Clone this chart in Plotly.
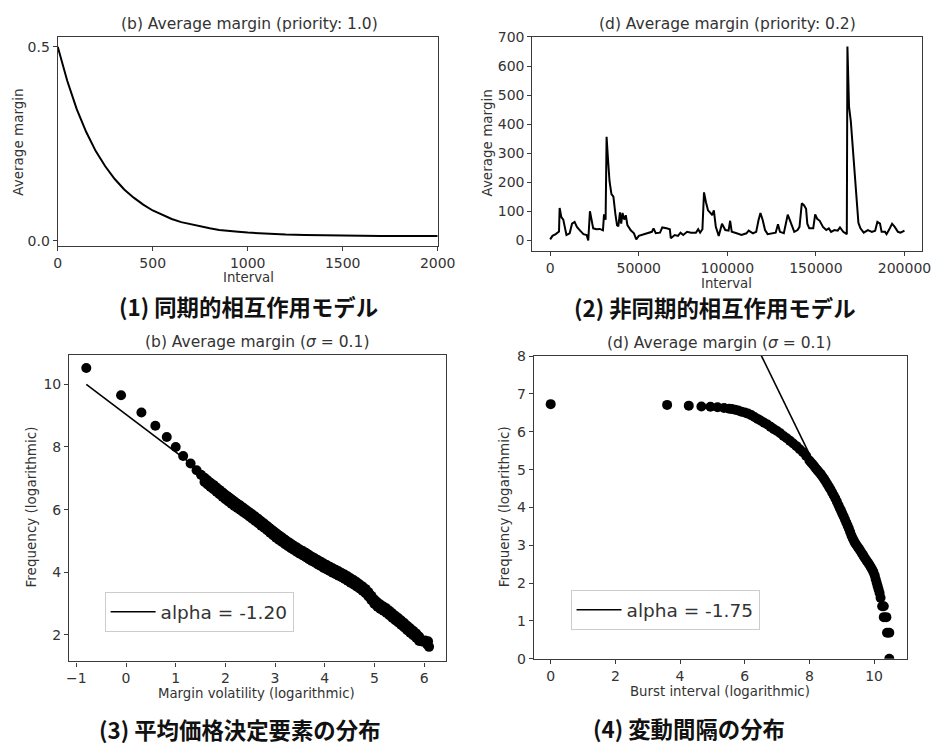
import plotly.graph_objects as go

W, H = 948, 748

# ---------------- data ----------------
# (1) synchronous model: average margin vs interval
sync_interval = [0, 50, 100, 150, 200, 250, 300, 350, 400, 450, 500, 550, 600, 650, 700,
                 750, 800, 850, 900, 950, 1000, 1100, 1200, 1300, 1400, 1500, 1600, 1700,
                 1800, 1900, 2000]
sync_margin = [0.500, 0.412, 0.339, 0.280, 0.231, 0.192, 0.159, 0.132, 0.111, 0.093, 0.078,
               0.066, 0.056, 0.048, 0.042, 0.036, 0.032, 0.028, 0.025, 0.023, 0.021, 0.018,
               0.016, 0.015, 0.014, 0.013, 0.0126, 0.0124, 0.0123, 0.0122, 0.0121]

# (2) asynchronous model: average margin vs interval
async_interval = [0, 1300, 3150, 4400, 5000, 5350, 6300, 7400, 8300, 9200, 11000, 12350, 13800,
                  15100, 16900, 18800, 20600, 21500, 22450, 23400, 24300, 26150, 28000, 29800,
                  30400, 31300, 31850, 32600, 33500, 34600, 35700, 36800, 37750, 38500, 39400,
                  40100, 40850, 41800, 42700, 43600, 45500, 47300, 48600, 50050, 53750, 57400,
                  58350, 59600, 62000, 63300, 65700, 67550, 68100, 70300, 72150, 73600, 75100,
                  77300, 79500, 82250, 83550, 84650, 85950, 86850, 87950, 89100, 90500, 91450,
                  92400, 93500, 95150, 97000, 98850, 100700, 101600, 102500, 105250, 108000,
                  110800, 112050, 114500, 116300, 117600, 118700, 120000, 121300, 122750,
                  125500, 127300, 128600, 129700, 131900, 133250, 134100, 135200, 136550,
                  137800, 139650, 140750, 142050, 143350, 144450, 145150, 146250, 148500,
                  149600, 150700, 152150, 154000, 155850, 157300, 158600, 160450, 162300,
                  163600, 165450, 167450, 167800, 168700, 169700, 170600, 171500, 172300,
                  173100, 174000, 175150, 177000, 179350, 181600, 183450, 184700, 186200,
                  187100, 189000, 189900, 191200, 193000, 194500, 196300, 197800, 200000]
async_margin = [3, 15, 21, 26, 30, 111, 80, 71, 41, 18, 24, 57, 63,
                46, 33, 21, 18, -1, 100, 69, 41, 38, 39, 34,
                89, 71, 356, 283, 204, 159, 150, 91, 52, 48, 96,
                57, 94, 71, 86, 52, 34, 24, 3, 15, 21, 29,
                41, 24, 26, 44, 41, 38, 7, 18, 15, 26, 18,
                29, 26, 26, 38, 26, 38, 165, 131, 103, 94, 86,
                103, 46, 15, 57, 35, 33, 67, 29, 24, 18,
                24, 33, 24, 29, 69, 94, 69, 35, 21,
                24, 26, 55, 29, 24, 57, 88, 71, 48,
                29, 35, 46, 127, 120, 108, 57, 41, 41,
                89, 74, 67, 46, 35, 41, 29, 35, 33,
                44, 29, 21, 667, 460, 410, 330, 260, 200,
                110, 60, 41, 26, 35, 29, 33, 63, 57,
                29, 29, 21, 35, 57, 46, 29, 26, 33]
async_ticks = [0, 50000, 100000, 150000, 200000]
async_ticktext = ["0", "50000", "100000", "150000", "200000"]

# (3) distribution of margin volatility (log-log)
# isolated points at the left
vol_sparse_x = [-0.80, -0.10, 0.31, 0.59, 0.82, 1.00, 1.15, 1.30, 1.42, 1.51]
vol_sparse_y = [10.52, 9.65, 9.10, 8.68, 8.32, 8.00, 7.71, 7.47, 7.26, 7.11]
# dense band: x positions with the upper and lower edge of the band of points
vol_band_x = [1.58, 1.64, 1.70, 1.76, 1.82, 1.88, 1.94, 2.00, 2.06, 2.12, 2.18, 2.24, 2.30,
              2.36, 2.42, 2.48, 2.54, 2.60, 2.66, 2.72, 2.78, 2.84, 2.90, 2.96, 3.02, 3.08,
              3.14, 3.20, 3.26, 3.32, 3.38, 3.44, 3.50, 3.56, 3.62, 3.68, 3.74, 3.80, 3.86,
              3.92, 3.98, 4.04, 4.10, 4.16, 4.22, 4.28, 4.34, 4.40, 4.46, 4.52, 4.58, 4.64,
              4.70, 4.76, 4.82, 4.88, 4.94, 5.00, 5.06, 5.12, 5.18, 5.24, 5.30, 5.36, 5.42,
              5.48, 5.54, 5.60, 5.66, 5.72, 5.78, 5.84, 5.90]
vol_band_upper = [7.02, 6.94, 6.86, 6.79, 6.71, 6.63, 6.55, 6.47, 6.40, 6.33,
                  6.26, 6.19, 6.13, 6.06, 5.99, 5.92, 5.85, 5.78, 5.71, 5.63,
                  5.56, 5.48, 5.40, 5.32, 5.24, 5.17, 5.11, 5.04, 4.97, 4.91,
                  4.85, 4.79, 4.73, 4.68, 4.62, 4.56, 4.50, 4.45, 4.39, 4.34,
                  4.28, 4.23, 4.18, 4.13, 4.08, 4.03, 3.98, 3.93, 3.87, 3.81,
                  3.75, 3.69, 3.62, 3.55, 3.47, 3.37, 3.25, 3.13, 3.04, 2.97,
                  2.91, 2.85, 2.77, 2.69, 2.61, 2.54, 2.46, 2.38, 2.29, 2.21,
                  2.13, 2.05, 1.95]
vol_band_lower = [6.88, 6.80, 6.72, 6.65, 6.57, 6.49, 6.41, 6.33, 6.26, 6.19,
                  6.12, 6.05, 5.99, 5.92, 5.85, 5.78, 5.71, 5.64, 5.57, 5.49,
                  5.42, 5.34, 5.26, 5.18, 5.10, 5.03, 4.97, 4.90, 4.83, 4.77,
                  4.71, 4.65, 4.59, 4.54, 4.48, 4.42, 4.36, 4.31, 4.25, 4.20,
                  4.14, 4.09, 4.04, 3.99, 3.94, 3.89, 3.84, 3.79, 3.73, 3.67,
                  3.61, 3.55, 3.48, 3.41, 3.33, 3.23, 3.11, 2.99, 2.90, 2.83,
                  2.77, 2.71, 2.63, 2.55, 2.47, 2.40, 2.32, 2.24, 2.15, 2.07,
                  1.99, 1.91, 1.81]
vol_tail_x = [5.96, 6.02, 6.06, 6.08, 6.10]
vol_tail_y = [1.79, 1.82, 1.70, 1.80, 1.62]
vol_fit_x = [-0.80, 6.10]
vol_fit_y = [10.00, 1.72]
vol_alpha = "alpha = -1.20"

# (4) distribution of burst intervals (log-log)
burst_x = [0.00, 3.60, 4.27, 4.66, 4.94, 5.16, 5.36, 5.52,
           5.60, 5.70, 5.80, 5.90, 6.00, 6.10, 6.20, 6.30, 6.40, 6.50, 6.60, 6.70, 6.80,
           6.90, 7.00, 7.10, 7.20, 7.30, 7.40, 7.50, 7.60, 7.70, 7.80, 7.90,
           8.00, 8.05, 8.10, 8.15, 8.20, 8.25, 8.30, 8.35, 8.40, 8.45, 8.50, 8.55, 8.60,
           8.65, 8.70, 8.75, 8.80, 8.85, 8.90, 8.94, 8.98, 9.02, 9.06, 9.10, 9.14, 9.18,
           9.22, 9.26, 9.30, 9.34, 9.38, 9.42, 9.46, 9.50, 9.54, 9.58, 9.62, 9.66, 9.70,
           9.74, 9.78, 9.82, 9.86, 9.90, 9.94, 9.98, 10.02, 10.05, 10.08, 10.11, 10.14,
           10.17, 10.20, 10.25, 10.30, 10.30, 10.38, 10.40, 10.47, 10.47]
burst_y = [6.73, 6.71, 6.69, 6.67, 6.66, 6.65, 6.63, 6.61,
           6.60, 6.58, 6.56, 6.53, 6.51, 6.48, 6.44, 6.39, 6.34, 6.29, 6.24, 6.19, 6.13,
           6.07, 6.02, 5.96, 5.89, 5.83, 5.76, 5.69, 5.62, 5.54, 5.46, 5.36,
           5.24, 5.19, 5.14, 5.09, 5.03, 4.98, 4.93, 4.88, 4.82, 4.76, 4.69, 4.62, 4.55,
           4.48, 4.40, 4.32, 4.24, 4.15, 4.06, 3.98, 3.91, 3.83, 3.76, 3.68, 3.60, 3.52,
           3.44, 3.35, 3.26, 3.18, 3.11, 3.05, 3.00, 2.95, 2.90, 2.85, 2.79, 2.74, 2.68,
           2.63, 2.58, 2.53, 2.48, 2.42, 2.36, 2.29, 2.20, 2.10, 2.01, 1.92, 1.83,
           1.74, 1.61, 1.39, 1.39, 1.10, 1.10, 0.69, 0.69, 0.00]
burst_fit_x = [6.30, 8.20]
burst_fit_y = [8.385, 5.06]
burst_alpha = "alpha = -1.75"

titles = ["(b) Average margin (priority: 1.0)", "(d) Average margin (priority: 0.2)",
          "(b) Average margin (<i>σ</i> = 0.1)", "(d) Average margin (<i>σ</i> = 0.1)"]
captions = ["(1) 同期的相互作用モデル", "(2) 非同期的相互作用モデル",
            "(3) 平均価格決定要素の分布", "(4) 変動間隔の分布"]
xlabels = ["Interval", "Interval", "Margin volatility (logarithmic)", "Burst interval (logarithmic)"]
ylabels = ["Average margin", "Average margin", "Frequency (logarithmic)", "Frequency (logarithmic)"]

# ---------------- figure ----------------
def px(x):
    return x / W

def py(y):
    return 1 - y / H

FONT = "DejaVu Sans"
TXT = "#333333"
AX = "#3a3a3a"

vol_all_x = vol_sparse_x + vol_band_x + vol_band_x + vol_tail_x
vol_all_y = vol_sparse_y + vol_band_upper + vol_band_lower + vol_tail_y

fig = go.Figure()

fig.add_trace(go.Scatter(x=sync_interval, y=sync_margin, mode="lines", line=dict(color="black", width=2),
                         xaxis="x", yaxis="y", showlegend=False))
fig.add_trace(go.Scatter(x=async_interval, y=async_margin, mode="lines", line=dict(color="black", width=2),
                         xaxis="x2", yaxis="y2", showlegend=False))
fig.add_trace(go.Scatter(x=vol_fit_x, y=vol_fit_y, mode="lines", line=dict(color="black", width=1.6),
                         xaxis="x3", yaxis="y3", name=vol_alpha, legend="legend"))
fig.add_trace(go.Scatter(x=vol_all_x, y=vol_all_y, mode="markers", marker=dict(color="black", size=10),
                         xaxis="x3", yaxis="y3", showlegend=False))
fig.add_trace(go.Scatter(x=burst_fit_x, y=burst_fit_y, mode="lines", line=dict(color="black", width=1.6),
                         xaxis="x4", yaxis="y4", name=burst_alpha, legend="legend2"))
fig.add_trace(go.Scatter(x=burst_x, y=burst_y, mode="markers", marker=dict(color="black", size=10),
                         xaxis="x4", yaxis="y4", showlegend=False))

def axis(domain, rng, tickvals, ticktext=None, size=14, anchor=None):
    d = dict(domain=domain, range=rng, tickvals=tickvals, showgrid=False, zeroline=False,
             showline=True, linecolor=AX, linewidth=1.2, mirror=True, ticks="outside",
             ticklen=4, tickwidth=1, tickcolor=AX,
             tickfont=dict(family=FONT, size=size, color=TXT), anchor=anchor)
    if ticktext is not None:
        d["ticktext"] = ticktext
    return d

legend_style = dict(xanchor="left", yanchor="top", bgcolor="white", bordercolor="#cccccc",
                    borderwidth=1, itemwidth=45, font=dict(family=FONT, size=18.5, color=TXT))

layout = dict(
    width=W, height=H, autosize=False,
    margin=dict(l=0, r=0, t=0, b=0),
    paper_bgcolor="white", plot_bgcolor="white",
    font=dict(family=FONT, color=TXT),
    xaxis=axis([px(55), px(444)], [0, 2000], [0, 500, 1000, 1500, 2000], anchor="y"),
    yaxis=axis([py(243), py(30)], [-0.013, 0.524], [0, 0.5], ["0.0", "0.5"], anchor="x"),
    xaxis2=axis([px(541), px(940)], [-10000, 210000], async_ticks, async_ticktext, anchor="y2"),
    yaxis2=axis([py(248), py(29.3)], [-36, 701], [0, 100, 200, 300, 400, 500, 600, 700], anchor="x2"),
    xaxis3=axis([px(66.7), px(452.7)], [-1.145, 6.445], [-1, 0, 1, 2, 3, 4, 5, 6],
                ["−1", "0", "1", "2", "3", "4", "5", "6"], anchor="y3"),
    yaxis3=axis([py(667.7), py(354.3)], [1.155, 10.945], [2, 4, 6, 8, 10], anchor="x3"),
    xaxis4=axis([px(542.3), px(924.7)], [-0.525, 11.025], [0, 2, 4, 6, 8, 10], anchor="y4"),
    yaxis4=axis([py(665), py(355.7)], [0, 8], [0, 1, 2, 3, 4, 5, 6, 7, 8], anchor="x4"),
    legend=dict(x=px(103), y=py(597), **legend_style),
    legend2=dict(x=px(580), y=py(595), **legend_style),
)
fig.update_layout(**layout)

ann = []
title_pos = [(251, 16), (741, 16), (259, 341), (732, 342)]
for t, (x, y) in zip(titles, title_pos):
    ann.append(dict(text=t, x=px(x), y=py(y), xref="paper", yref="paper", showarrow=False,
                    xanchor="center", yanchor="middle", font=dict(family=FONT, size=15.5, color=TXT)))
cap_pos = [(250, 305), (728, 306), (242, 737), (701, 736)]
for t, (x, y) in zip(captions, cap_pos):
    ann.append(dict(text="<b>" + t + "</b>", x=px(x), y=py(y), xref="paper", yref="paper",
                    showarrow=False, xanchor="center", yanchor="middle",
                    font=dict(family="Noto Sans CJK JP", size=22.4, color="#111111")))
xl_pos = [(250, 275), (740, 282), (259, 700), (733, 698)]
for t, (x, y) in zip(xlabels, xl_pos):
    ann.append(dict(text=t, x=px(x), y=py(y), xref="paper", yref="paper", showarrow=False,
                    xanchor="center", yanchor="middle", font=dict(family=FONT, size=13.3, color=TXT)))
yl_pos = [(14, 137), (495, 138), (28, 510), (512, 510)]
for t, (x, y) in zip(ylabels, yl_pos):
    ann.append(dict(text=t, x=px(x), y=py(y), xref="paper", yref="paper", showarrow=False,
                    textangle=-90, xanchor="center", yanchor="middle",
                    font=dict(family=FONT, size=13.5, color=TXT)))
fig.update_layout(annotations=ann)

fig.write_html("out.html", config={"displayModeBar": False},
               post_script="document.body.style.margin='0';")
